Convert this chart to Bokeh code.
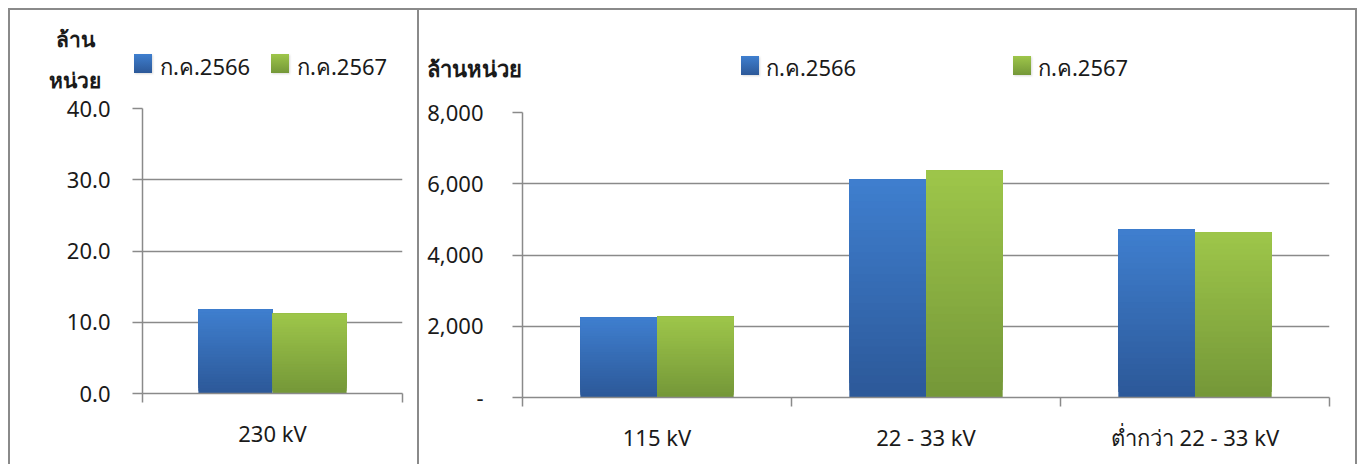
from bokeh.plotting import figure
from bokeh.models import ColumnDataSource, FixedTicker, Range1d, Div
from bokeh.layouts import row, column
from bokeh.embed import file_html
from bokeh.resources import INLINE

# ---------------- data ----------------
left_categories = ["230 kV"]
left_2566 = [11.8]
left_2567 = [11.2]
left_ticks = [0, 10, 20, 30, 40]
left_tick_labels = ["0.0", "10.0", "20.0", "30.0", "40.0"]

right_categories = ["115 kV", "22 - 33 kV", "ต่ำกว่า 22 - 33 kV"]
right_2566 = [2245, 6120, 4715]
right_2567 = [2270, 6370, 4630]
right_ticks = [0, 2000, 4000, 6000, 8000]
right_tick_labels = ["-", "2,000", "4,000", "6,000", "8,000"]

series_labels = ["ก.ค.2566", "ก.ค.2567"]
left_unit_lines = ["ล้าน", "หน่วย"]
right_unit = "ล้านหน่วย"

# ---------------- style ----------------
FONT = "Noto Sans"
FS = "22px"
GRAY = "#8a8a8a"
TEXT = "#1a1a1a"
BLUE_TOP, BLUE_BOT = (63, 127, 207), (44, 88, 152)
GREEN_TOP, GREEN_BOT = (158, 198, 74), (116, 151, 56)
HALF = 0.285
NBANDS = 30
BORDER = "2px solid " + GRAY


def hexc(c):
    return "#%02x%02x%02x" % tuple(int(round(v)) for v in c)


SWATCH = ["linear-gradient(%s,%s)" % (hexc(BLUE_TOP), hexc(BLUE_BOT)),
          "linear-gradient(%s,%s)" % (hexc(GREEN_TOP), hexc(GREEN_BOT))]


def band_source(values, x0, x1, cbot, ctop):
    # overlapping bands (each runs to the bar top) give a seamless vertical gradient
    d = dict(left=[], right=[], bottom=[], top=[], color=[])
    for i, v in enumerate(values):
        c = i + 0.5
        for k in range(NBANDS):
            t = (k + 0.5) / NBANDS
            d["left"].append(c + x0)
            d["right"].append(c + x1)
            d["bottom"].append(v * k / NBANDS)
            d["top"].append(v)
            d["color"].append(hexc([a + (b - a) * t for a, b in zip(cbot, ctop)]))
    return ColumnDataSource(d)


def make_chart(cats, s1, s2, ticks, tick_labels, width, height, borders, ymax, label_standoff):
    n = len(cats)
    p = figure(width=width, height=height, output_backend="svg", toolbar_location=None,
               x_range=Range1d(0, n), y_range=Range1d(0, ymax))
    p.min_border_left, p.min_border_right, p.min_border_top, p.min_border_bottom = borders
    p.outline_line_color = None

    p.quad(left="left", right="right", bottom="bottom", top="top", fill_color="color",
           line_color=None, source=band_source(s1, -HALF, 0.0, BLUE_BOT, BLUE_TOP))
    p.quad(left="left", right="right", bottom="bottom", top="top", fill_color="color",
           line_color=None, source=band_source(s2, 0.0, HALF, GREEN_BOT, GREEN_TOP))

    p.yaxis.ticker = FixedTicker(ticks=ticks)
    p.yaxis.major_label_overrides = {t: l for t, l in zip(ticks, tick_labels)}
    p.yaxis.major_tick_out = 10
    p.yaxis.major_tick_in = 0
    p.yaxis.minor_tick_line_color = None
    p.yaxis.major_tick_line_color = GRAY
    p.yaxis.major_tick_line_width = 1.5
    p.yaxis.axis_line_color = GRAY
    p.yaxis.axis_line_width = 1.5
    p.yaxis.major_label_standoff = label_standoff
    p.yaxis.major_label_text_font = FONT
    p.yaxis.major_label_text_font_size = FS
    p.yaxis.major_label_text_color = TEXT

    centres = [i + 0.5 for i in range(n)]
    p.xaxis.ticker = FixedTicker(ticks=centres, minor_ticks=list(range(n + 1)))
    p.xaxis.major_label_overrides = {c: l for c, l in zip(centres, cats)}
    p.xaxis.major_tick_line_color = None
    p.xaxis.major_tick_out = 0
    p.xaxis.major_tick_in = 0
    p.xaxis.minor_tick_line_color = GRAY
    p.xaxis.minor_tick_line_width = 1.5
    p.xaxis.minor_tick_out = 9
    p.xaxis.minor_tick_in = 0
    p.xaxis.axis_line_color = GRAY
    p.xaxis.axis_line_width = 1.5
    p.xaxis.major_label_standoff = 15
    p.xaxis.major_label_text_font = FONT
    p.xaxis.major_label_text_font_size = FS
    p.xaxis.major_label_text_color = TEXT

    p.xgrid.grid_line_color = None
    p.ygrid.grid_line_color = GRAY
    p.ygrid.grid_line_width = 1.5
    p.ygrid.ticker = FixedTicker(ticks=ticks)
    return p


def abs_text(x, y, text, size, bold=False, width=None, center=False):
    st = "position:absolute;left:%dpx;top:%dpx;font-size:%dpx;line-height:%dpx;white-space:nowrap;" % (
        x, y, size, size)
    if bold:
        st += "font-weight:bold;"
    if width is not None:
        st += "width:%dpx;" % width
    if center:
        st += "text-align:center;"
    return '<div style="%s">%s</div>' % (st, text)


def swatch(x, y, i):
    return ('<div style="position:absolute;left:%dpx;top:%dpx;width:18px;height:19px;'
            'background:%s;box-shadow:1px 1px 2px rgba(0,0,0,0.15);"></div>' % (x, y, SWATCH[i]))


def header(width, height, parts, styles):
    html = ('<div style="position:relative;width:%dpx;height:%dpx;font-family:\'%s\',sans-serif;'
            'color:%s;">%s</div>' % (width, height, FONT, TEXT, "".join(parts)))
    return Div(text=html, width=width, height=height, styles=styles, margin=(0, 0, 0, 0))


# ---------- left panel ----------
left_parts = [abs_text(25, 19, left_unit_lines[0], 21, bold=True, width=80, center=True),
              abs_text(25, 60, left_unit_lines[1], 21, bold=True, width=80, center=True),
              swatch(124, 44, 0), abs_text(150, 45, series_labels[0], 22),
              swatch(261, 44, 1), abs_text(287, 45, series_labels[1], 22)]
hl = header(409, 83, left_parts, {"border-top": BORDER, "border-left": BORDER,
                                  "box-sizing": "border-box"})
cl = make_chart(left_categories, left_2566, left_2567, left_ticks, left_tick_labels,
                409, 373, (132, 17, 17, 71), 40, 22)
cl.styles = {"border-left": BORDER}

# ---------- right panel ----------
right_parts = [abs_text(8, 47, right_unit, 22, bold=True),
               swatch(322, 46, 0), abs_text(347, 46, series_labels[0], 22),
               swatch(594, 46, 1), abs_text(619, 46, series_labels[1], 22)]
hr = header(940, 87, right_parts, {"border-top": BORDER, "border-left": BORDER,
                                   "border-right": BORDER, "box-sizing": "border-box"})
cr = make_chart(right_categories, right_2566, right_2567, right_ticks, right_tick_labels,
                940, 369, (103, 30, 17, 67), 8000, 29)
cr.styles = {"border-left": BORDER, "border-right": BORDER}

layout = row(column(hl, cl, spacing=0), column(hr, cr, spacing=0), spacing=0,
             margin=(8, 0, 0, 8))
open("out.html", "w").write(file_html(layout, INLINE))
